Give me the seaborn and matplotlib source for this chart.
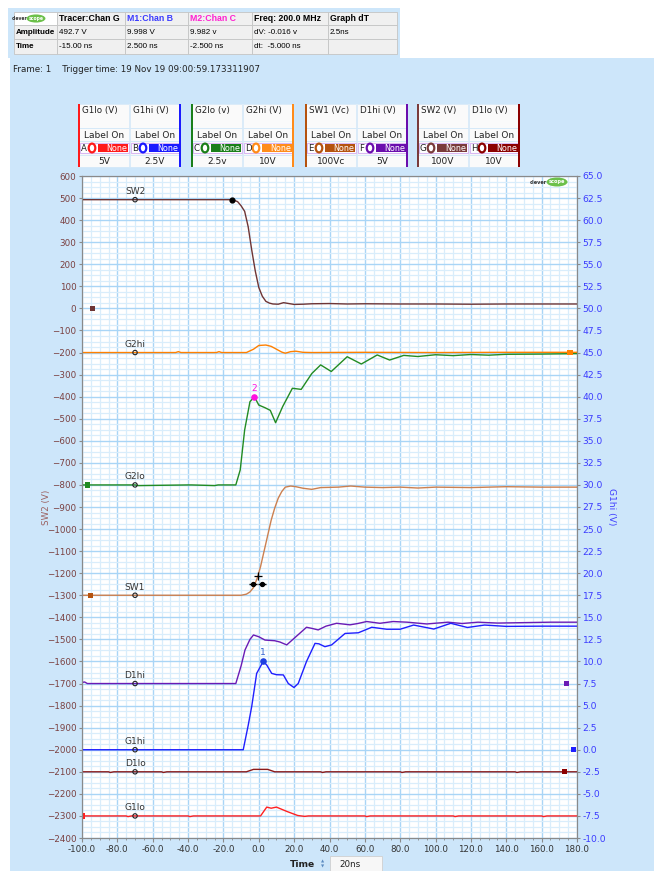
import matplotlib
matplotlib.use("Agg")
import matplotlib.pyplot as plt
from matplotlib.patches import Rectangle, Ellipse, Circle
from matplotlib.ticker import MultipleLocator, FormatStrFormatter
import seaborn as sns
import numpy as np

# ---- trace data (time ns, value in left-axis display units) ----
sw2_t = [-100, -15, -12, -10, -8, -6, -4, -2, 0, 2, 4, 6, 8, 11, 14, 17, 20, 25, 30, 40, 50, 60, 80, 100, 120, 140, 160, 180]
sw2_v = [492.7, 492.7, 484, 465, 440, 370, 265, 170, 95, 55, 32, 24, 20, 19, 26, 22, 18, 19, 21, 22, 20, 21, 20, 20, 19, 20, 20, 20]

g2hi_t = [-100, -47, -45.5, -44, -24, -22.5, -21, -7, -3, 0, 4, 7, 10, 13, 15, 18, 21, 25, 30, 60, 100, 140, 180]
g2hi_v = [-200, -200, -196, -200, -200, -196, -200, -200, -185, -168, -166, -172, -185, -198, -203, -196, -194, -199, -200, -199, -200, -199, -199]

g2lo_t = [-100, -70, -68, -40, -38, -25, -23, -13, -10.5, -8, -5, -2.5, 0, 3.5, 6.5, 9.5, 13.5, 19, 24, 30, 35, 41, 50, 58, 67, 74, 82, 90, 100, 110, 120, 130, 140, 160, 180]
g2lo_v = [-800, -800, -803, -800, -800, -803, -800, -800, -732, -551, -423, -400, -438, -450, -462, -518, -445, -362, -367, -295, -256, -286, -219, -252, -211, -234, -213, -218, -210, -214, -209, -212, -208, -207, -205]

sw1_t = [-100, -10, -7, -5, -3, -1, 1, 3, 5, 7, 9, 11, 13, 15, 18, 21, 25, 30, 35, 45, 52, 60, 70, 80, 90, 100, 120, 140, 160, 180]
sw1_v = [-1300, -1300, -1295, -1285, -1265, -1225, -1170, -1100, -1030, -960, -905, -860, -830, -810, -805, -808, -815, -820, -812, -810, -805, -810, -812, -810, -814, -810, -812, -808, -810, -810]

d1hi_t = [-100, -98.5, -97, -13, -10, -7.8, -5, -3, 0, 3.5, 9, 12, 15.8, 20, 27, 30, 33.6, 38, 44, 51.6, 56, 61, 68.5, 76, 84, 95, 107, 115, 124, 135, 150, 165, 180]
d1hi_v = [-1695, -1693, -1700, -1700, -1620, -1548, -1500, -1480, -1488, -1503, -1506, -1512, -1525, -1495, -1445, -1450, -1457, -1440, -1427, -1434, -1428, -1419, -1427, -1419, -1422, -1430, -1422, -1428, -1422, -1426, -1424, -1422, -1422]

g1hi_t = [-100, -8.8, -6, -4, -1.2, 2.5, 4.5, 7.3, 10, 13.9, 16.7, 19.9, 22.3, 27, 31.8, 34, 37.4, 41.2, 48.8, 56.3, 63.9, 72.4, 79.9, 87.6, 99, 108.6, 118, 127.7, 140, 160, 180]
g1hi_v = [-2000, -2000, -1890, -1804, -1654, -1600, -1616, -1654, -1660, -1661, -1700, -1718, -1700, -1600, -1518, -1520, -1533, -1525, -1473, -1470, -1445, -1454, -1454, -1435, -1453, -1427, -1446, -1435, -1441, -1440, -1440]

d1lo_t = [-100, -85, -84, -82, -55, -54, -52, -7, -3, 5, 9, 35, 36, 38, 80, 81, 83, 145, 146, 148, 180]
d1lo_v = [-2100, -2100, -2103, -2100, -2100, -2103, -2100, -2100, -2089, -2089, -2100, -2100, -2103, -2100, -2100, -2103, -2100, -2100, -2103, -2100, -2100]

g1lo_t = [-100, -75, -74, -72, -40, -39, -37, 1, 4.5, 7, 10, 16, 22, 26, 28, 60, 61, 63, 110, 111, 113, 160, 161, 163, 180]
g1lo_v = [-2300, -2300, -2303, -2300, -2300, -2303, -2300, -2300, -2260, -2265, -2260, -2280, -2298, -2302, -2300, -2300, -2303, -2300, -2300, -2303, -2300, -2300, -2303, -2300, -2300]

# channel names, colours, label levels and zero-reference markers
names = ["SW2", "G2hi", "G2lo", "SW1", "D1hi", "G1hi", "D1lo", "G1lo"]
colors = ["#6e3535", "#ff8000", "#228b22", "#cc8050", "#6a1bb5", "#1f1fff", "#8b1a1a", "#ff2020"]
traces = [(sw2_t, sw2_v), (g2hi_t, g2hi_v), (g2lo_t, g2lo_v), (sw1_t, sw1_v),
          (d1hi_t, d1hi_v), (g1hi_t, g1hi_v), (d1lo_t, d1lo_v), (g1lo_t, g1lo_v)]
label_levels = [492.7, -200, -800, -1300, -1700, -2000, -2100, -2300]
zero_t = [-94, 176, -97, -95, 174, 178, 173, -99.5]
zero_v = [0, -200, -800, -1300, -1700, -2000, -2100, -2300]
zero_colors = ["#6e3535", "#ff8000", "#228b22", "#b5530f", "#6a1bb5", "#1f1fff", "#8b0000", "#ff2020"]

# header table
hdr = ["", "Tracer:Chan G", "M1:Chan B", "M2:Chan C", "Freq: 200.0 MHz", "Graph dT"]
row_amp = ["Amplitude", "492.7 V", "9.998 V", "9.982 v", "dV: -0.016 v", "2.5ns"]
row_time = ["Time", "-15.00 ns", "2.500 ns", "-2.500 ns", "dt:  -5.000 ns", ""]

# channel boxes
ch_letters = ["A", "B", "C", "D", "E", "F", "G", "H"]
ch_names = ["G1lo (V)", "G1hi (V)", "G2lo (v)", "G2hi (V)", "SW1 (Vc)", "D1hi (V)", "SW2 (V)", "D1lo (V)"]
ch_scales = ["5V", "2.5V", "2.5v", "10V", "100Vc", "5V", "100V", "10V"]
ch_colors = ["#ff1a1a", "#1a1aff", "#1a7f1a", "#ff8c1a", "#b5530f", "#6a0dad", "#7a3b3b", "#8b0000"]

W, H = 654, 871
BG = "#cde6fa"
fig = plt.figure(figsize=(W / 100, H / 100), dpi=100, facecolor="white")
plt.rcParams["font.family"] = ["DejaVu Sans"]


def fx(px):
    return px / W


def fy(py):
    return 1 - py / H


def rect(x0, y0, x1, y1, fc, ec="none", lw=0.8, z=1):
    fig.add_artist(Rectangle((fx(x0), fy(y1)), (x1 - x0) / W, (y1 - y0) / H,
                             transform=fig.transFigure, fc=fc, ec=ec, lw=lw, zorder=z))


def txt(px, py, s, **kw):
    kw.setdefault("va", "center")
    kw.setdefault("fontsize", 6.3)
    fig.text(fx(px), fy(py), s, zorder=5, **kw)


def logo(cx, cy, scale=1.0):
    txt(cx - 10 * scale, cy, "clever", fontsize=3.6 * scale, ha="right", color="#333333", weight="bold")
    fig.add_artist(Ellipse((fx(cx), fy(cy)), 21 * scale / W, 9 * scale / H, transform=fig.transFigure,
                           fc="#6cc04a", ec="none", zorder=4))
    txt(cx, cy, "scope", fontsize=3.6 * scale, ha="center", color="white", weight="bold")


# background panels
rect(10, 58, W, H, BG, z=0)
rect(8, 8, 400, 58, BG, z=0)

# header table
cols = [14, 57, 125, 188, 252, 328, 397]
rows = [12, 25, 39, 54]
hdr_colors = ["black", "black", "#3a3aff", "#ff20d0", "black", "black"]
for r, row in enumerate([hdr, row_amp, row_time]):
    for c in range(6):
        fc = "white" if (r == 0 and c == 0) else "#f0f0f0"
        rect(cols[c], rows[r], cols[c + 1], rows[r + 1], fc, ec="#c4c4c4", lw=0.6, z=2)
        bold = (r == 0) or (c == 0)
        txt(cols[c] + 2, (rows[r] + rows[r + 1]) / 2, row[c], ha="left", family="Liberation Sans",
            weight="bold" if bold else "normal", color=hdr_colors[c] if r == 0 else "black",
            fontsize=6.3 if r == 0 else 5.8)
logo(36, 18.5, 0.9)
txt(13, 70, "Frame: 1    Trigger time: 19 Nov 19 09:00:59.173311907", ha="left", fontsize=6.3, color="#222222")

# channel boxes
group_x = [79, 192, 306, 418]
for g, gx in enumerate(group_x):
    rect(gx, 104, gx + 101, 167, "#fafafa", z=2)
    for k in range(2):
        i = 2 * g + k
        cx = gx + 51 * k
        for y0, y1 in [(104, 128), (128, 141), (141, 155), (155, 167)]:
            rect(cx, y0, cx + 50, y1, "none", ec="#d6e9f8", lw=0.6, z=3)
        txt(cx + 3, 111, ch_names[i], ha="left", fontsize=6.3, color="#222222")
        txt(cx + 25, 135, "Label On", ha="center", fontsize=6.5, color="#222222")
        rect(cx + 1, 143, cx + 49.5, 153, "white", ec="#d9b8f2", lw=0.8, z=3)
        txt(cx + 2, 148.3, ch_letters[i], ha="left", fontsize=6.2, color="#222222")
        fig.add_artist(Circle((fx(cx + 13), fy(148)), 3.3 / W, transform=fig.transFigure,
                              fc="white", ec=ch_colors[i], lw=1.6, zorder=4))
        rect(cx + 18.5, 144, cx + 49, 152.5, ch_colors[i], z=4)
        txt(cx + 48, 148.3, "None", ha="right", fontsize=5.8, color="white")
        txt(cx + 25, 161.5, ch_scales[i], ha="center", fontsize=6.5, color="#222222")
    rect(gx - 1, 104, gx + 1, 167, ch_colors[2 * g], z=4)
    rect(gx + 100, 104, gx + 102, 167, ch_colors[2 * g + 1], z=4)

# ---- main scope axes ----
ax = fig.add_axes([fx(82), fy(838), 495 / W, 662 / H])
ax.set_facecolor("white")
ax.set_xlim(-100, 180)
ax.set_ylim(-2400, 600)
ax.xaxis.set_major_locator(MultipleLocator(20))
ax.xaxis.set_minor_locator(MultipleLocator(5))
ax.yaxis.set_major_locator(MultipleLocator(100))
ax.yaxis.set_minor_locator(MultipleLocator(25))
ax.xaxis.set_major_formatter(FormatStrFormatter("%.1f"))
ax.grid(which="major", color="#a9d5f6", lw=1.0)
ax.grid(which="minor", color="#d9edfb", lw=0.9)
ax.set_axisbelow(True)

for (t, v), c in zip(traces, colors):
    sns.lineplot(x=t, y=v, color=c, lw=1.0, ax=ax, sort=False, estimator=None, zorder=3)

# channel zero reference squares
for tz, vz, c in zip(zero_t, zero_v, zero_colors):
    ax.scatter([tz], [vz], marker="s", s=14, color=c, zorder=5, edgecolor="none")

# channel label markers
sns.scatterplot(x=[-70] * len(label_levels), y=label_levels, marker="o", s=10,
                facecolor="none", edgecolor="#222222", linewidth=0.8, ax=ax, zorder=6)
for n, lv in zip(names, label_levels):
    ax.annotate(n, (-70, lv), xytext=(0, 2.5), textcoords="offset points",
                ha="center", va="bottom", fontsize=6.5, color="#333333", zorder=6)

# tracer and measurement markers
ax.scatter([-15], [492.7], s=12, color="black", zorder=7)
ax.scatter([-2.5], [-400], s=14, color="#ff10e0", zorder=7)
ax.annotate("2", (-2.5, -400), xytext=(0, 3), textcoords="offset points", ha="center",
            va="bottom", fontsize=6.5, color="#ff10e0")
ax.scatter([2.5], [-1600], s=14, color="#1f3fe0", zorder=7)
ax.annotate("1", (2.5, -1600), xytext=(0, 3), textcoords="offset points", ha="center",
            va="bottom", fontsize=6.5, color="#3060d0")
ax.scatter([-0.3], [-1213], marker="+", s=30, color="black", lw=0.9, zorder=7)
ax.scatter([-3.2, 1.6], [-1249, -1249], marker="o", s=8, color="black", zorder=7)
ax.scatter([-3.2, 1.6], [-1249, -1249], marker="_", s=40, color="black", lw=1.0, zorder=7)

for s in ax.spines.values():
    s.set_color("#8a8a8a")
ax.tick_params(axis="x", which="major", length=3, colors="#8a8a8a", labelcolor="#333333", labelsize=6.3, pad=2)
ax.tick_params(axis="x", which="minor", length=1.5, colors="#8a8a8a")
ax.tick_params(axis="y", which="major", length=2, colors="#8a8a8a", labelcolor="#7a4040", labelsize=6.3, pad=2)
ax.tick_params(axis="y", which="minor", length=0)
ax.set_xlabel("")
ax.set_ylabel("")

ax2 = ax.twinx()
ax2.set_ylim(-10, 65)
ax2.yaxis.set_major_locator(MultipleLocator(2.5))
ax2.yaxis.set_major_formatter(FormatStrFormatter("%.1f"))
ax2.tick_params(axis="y", length=2, colors="#8a8a8a", labelcolor="#3a3aff", labelsize=6.6, pad=2)
for s in ax2.spines.values():
    s.set_color("#8a8a8a")

logo(557, 182, 1.0)

txt(47, 507, "SW2 (V)", rotation=90, ha="center", color="#9a6060", fontsize=6.3)
txt(612, 507, "G1hi (V)", rotation=270, ha="center", color="#4040ff", fontsize=6.6)

# time-base control under the axis
txt(303, 864, "Time", ha="center", weight="bold", fontsize=6.6, color="#222222")
txt(323, 861, "\u25b2", ha="center", fontsize=3, color="#5a8ac0")
txt(323, 866, "\u25bc", ha="center", fontsize=3, color="#5a8ac0")
rect(330, 856, 382, 872, "#f7f7f7", ec="#d0d0d0", lw=0.6, z=2)
txt(350, 864, "20ns", ha="center", fontsize=6.3, color="#222222")

fig.savefig("out.png", dpi=100, facecolor=fig.get_facecolor())
